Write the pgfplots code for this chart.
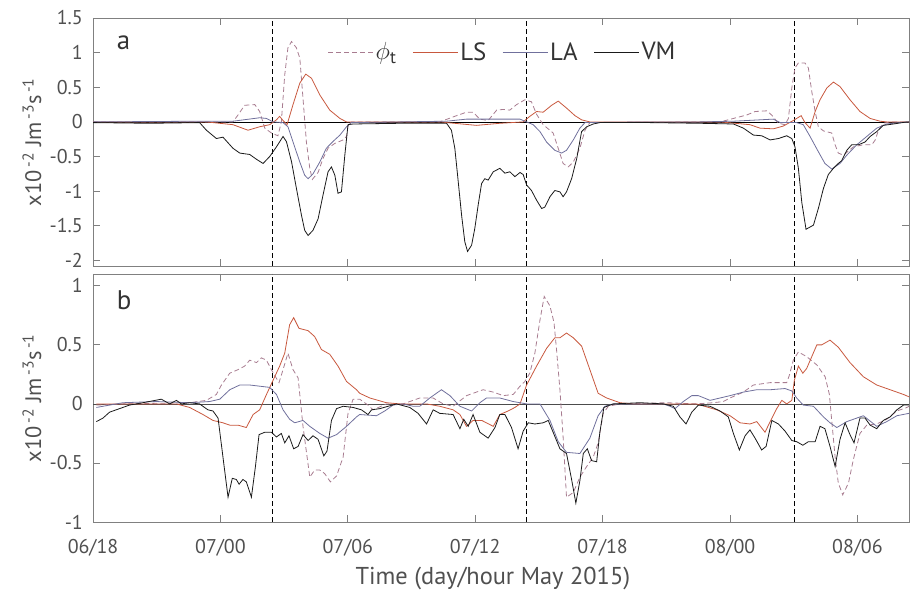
\documentclass[border=0pt]{standalone}
\usepackage{fontspec}
\setmainfont{PT Sans}
\usepackage{pgfplots}
\pgfplotsset{compat=1.18}

\definecolor{cLS}{RGB}{200,88,62}
\definecolor{cLA}{RGB}{112,112,156}
\definecolor{cPhi}{RGB}{168,124,144}
\definecolor{cVM}{RGB}{26,26,26}
\definecolor{axgray}{RGB}{128,128,128}
\definecolor{txtgray}{RGB}{80,80,80}
\definecolor{dark}{RGB}{51,51,51}

\newcommand{\tickfont}{\fontsize{20}{23}\selectfont}

\pgfplotsset{
  panel/.style={
    scale only axis,
    anchor=south west,
    width=816bp, height=248bp,
    xmin=0, xmax=38.43,
    axis line style={axgray, line width=0.8bp},
    tick style={axgray, line width=0.8bp},
    major tick length=7bp,
    tick align=inside,
    xtick={0,6,12,18,24,30,36},
    yticklabel style={font=\tickfont, text=txtgray, anchor=east, inner sep=0pt, xshift=-10bp},
    xticklabel style={font=\tickfont, text=txtgray},
    ylabel={x10\textsuperscript{\,-2} Jm\textsuperscript{\,-3}s\textsuperscript{\,-1}},
    ylabel style={at={(axis description cs:-0.075,0.5)}, anchor=center,
      font=\fontsize{22.5}{26}\selectfont, text=txtgray},
    every axis plot/.append style={line width=0.8bp},
  },
  phi/.style={cPhi, dash pattern=on 5bp off 3bp},
  ls/.style={cLS},
  la/.style={cLA},
  vm/.style={cVM},
  event/.style={black, line width=0.8bp, dash pattern=on 5bp off 3bp, forget plot},
}

\begin{document}
\begin{tikzpicture}
\useasboundingbox (0,0) rectangle (910bp,590bp);

% ---------------- panel a ----------------
\begin{axis}[panel, at={(93bp,324bp)},
  ymin=-2.08, ymax=1.5,
  ytick={-2,-1.5,-1,-0.5,0,0.5,1,1.5},
  yticklabels={-2,-1.5,-1,-0.5,0,0.5,1,1.5},
  xticklabels={},
  legend columns=4,
  legend style={at={(axis description cs:0.502,0.863)}, anchor=center,
    draw=none, fill=none, font=\fontsize{25}{28}\selectfont, text=dark,
    /tikz/every even column/.append style={column sep=14bp}},
  legend image code/.code={\draw[#1] (0bp,0bp) -- (45bp,0bp);},
]
\addplot[black, line width=0.8bp, forget plot] coordinates {(0,0) (38.43,0)};
\addplot[event] coordinates {(8.45,-2.08) (8.45,1.5)};
\addplot[event] coordinates {(20.40,-2.08) (20.40,1.5)};
\addplot[event] coordinates {(33.03,-2.08) (33.03,1.5)};

\addplot[phi] coordinates {
(0,0) (6.59,0) (6.83,0.10) (7.14,0.24) (7.62,0.25) (7.85,0.15) (8.09,-0.09)
(8.40,-0.16) (8.71,-0.20) (8.87,0) (9.03,0.68) (9.18,1.07) (9.35,1.16)
(9.58,1.07) (9.74,0.92) (9.89,0.34) (10.05,-0.29) (10.21,-0.67) (10.33,-0.83)
(10.60,-0.73) (10.83,-0.53) (11.07,-0.38) (11.39,-0.31) (11.78,-0.26)
(11.94,-0.21) (12.01,-0.05) (12.17,0) (16.33,0) (17.12,0.09) (17.59,0.14)
(17.90,0.14) (18.22,0.04) (18.61,0.02) (19.01,0.17) (19.32,0.18) (19.63,0.17)
(19.95,0.25) (20.34,0.32) (20.65,0.29) (20.89,0.11) (21.20,-0.04)
(21.67,-0.16) (21.91,-0.38) (22.14,-0.60) (22.38,-0.65) (22.62,-0.58)
(22.93,-0.38) (23.17,-0.12) (23.40,-0.01) (29.53,0) (30.79,0.10) (31.18,0.15)
(31.73,0.16) (31.96,0.10) (32.28,-0.02) (32.59,-0.04) (32.75,0.05)
(32.91,0.49) (33.06,0.78) (33.22,0.85) (33.53,0.85) (33.69,0.78) (33.85,0.44)
(34.01,0.15) (34.16,-0.07) (34.40,-0.13) (34.79,-0.16) (34.95,-0.33)
(35.10,-0.45) (35.34,-0.48) (35.81,-0.36) (36.28,-0.33) (36.68,-0.33)
(36.84,-0.26) (36.99,-0.12) (37.22,-0.02) (37.54,0) (38.43,0)
};
\addlegendentry{$\phi$\textsubscript{t}}

\addplot[ls] coordinates {
(0,0) (5.34,0) (6.59,-0.04) (7.30,-0.12) (7.85,-0.07) (8.32,-0.04) (8.64,0.03)
(8.79,0.08) (8.95,0.02) (9.14,-0.04) (9.42,0.25) (9.74,0.56) (10.02,0.69)
(10.29,0.63) (10.68,0.39) (11.15,0.17) (11.63,0.05) (11.94,0) (16.33,0)
(18.06,-0.05) (19.16,-0.02) (20.26,0) (20.57,0.08) (20.89,0.15) (21.20,0.14)
(21.60,0.24) (21.91,0.30) (22.30,0.20) (22.70,0.09) (23.01,0.03) (23.40,0)
(29.53,0) (30.94,-0.04) (31.41,-0.09) (32.04,-0.10) (32.51,-0.06)
(32.98,0.02) (33.35,0.09) (33.53,-0.01) (33.77,-0.09) (34.01,0.15)
(34.24,0.32) (34.56,0.49) (34.87,0.575) (35.18,0.51) (35.65,0.32)
(36.12,0.15) (36.60,0.05) (37.07,0.01) (37.38,0) (38.43,0)
};
\addlegendentry{LS}

\addplot[la] coordinates {
(0,0) (5.02,0.01) (6.59,0.01) (7.85,0.06) (8.17,0.05) (8.48,0) (8.95,-0.01)
(9.18,-0.07) (9.42,-0.29) (9.74,-0.58) (9.97,-0.77) (10.13,-0.82)
(10.36,-0.75) (10.68,-0.58) (10.99,-0.38) (11.31,-0.28) (11.63,-0.19)
(11.94,-0.07) (12.17,-0.01) (14.45,0) (16.65,0.01) (16.96,0.02) (17.59,0.04)
(19.16,0.04) (20.11,0.04) (20.42,0) (20.73,-0.04) (21.05,-0.14) (21.36,-0.29)
(21.75,-0.41) (22.07,-0.45) (22.30,-0.41) (22.62,-0.26) (22.93,-0.09)
(23.17,-0.01) (26.23,0) (28.59,0) (30.16,0.01) (32.04,0.04) (32.36,-0.01)
(33.14,-0.01) (33.45,-0.04) (33.77,-0.21) (34.16,-0.43) (34.47,-0.60)
(34.79,-0.68) (35.18,-0.60) (35.50,-0.48) (35.97,-0.33) (36.44,-0.21)
(36.91,-0.09) (37.38,-0.03) (38.0,-0.01) (38.43,0)
};
\addlegendentry{LA}

\addplot[vm] coordinates {
(0,-0.01) (2.67,-0.02) (5.02,-0.01) (5.34,-0.12) (5.81,-0.24) (6.12,-0.22)
(6.59,-0.38) (6.91,-0.45) (7.38,-0.47) (7.70,-0.54) (8.01,-0.60) (8.32,-0.50)
(8.64,-0.36) (8.95,-0.21) (9.11,-0.285) (9.35,-0.575) (9.58,-0.96)
(9.82,-1.35) (9.97,-1.565) (10.13,-1.64) (10.36,-1.565) (10.60,-1.40)
(10.83,-1.06) (11.07,-0.72) (11.23,-0.65) (11.39,-0.77) (11.54,-1.03)
(11.70,-1.01) (11.86,-0.48) (12.01,-0.04) (12.25,-0.03) (14.45,-0.02)
(16.65,-0.02) (16.88,-0.12) (17.04,-0.38) (17.20,-0.86) (17.36,-1.35)
(17.51,-1.73) (17.64,-1.87) (17.83,-1.78) (17.98,-1.54) (18.14,-1.20)
(18.30,-0.89) (18.45,-0.82) (18.61,-0.84) (18.85,-0.72) (19.16,-0.67)
(19.40,-0.74) (19.63,-0.72) (19.87,-0.79) (20.11,-0.73) (20.26,-0.76)
(20.42,-0.91) (20.65,-0.99) (20.89,-1.13) (21.13,-1.25) (21.28,-1.23)
(21.52,-1.08) (21.75,-0.99) (21.99,-1.01) (22.14,-1.08) (22.30,-1.01)
(22.54,-0.82) (22.78,-0.53) (23.01,-0.14) (23.25,-0.07) (23.56,-0.03)
(23.87,-0.01) (26.23,-0.01) (28.59,-0.02) (30.16,-0.03) (30.63,-0.09)
(31.10,-0.19) (31.49,-0.20) (31.89,-0.26) (32.28,-0.24) (32.67,-0.20)
(32.91,-0.24) (33.06,-0.36) (33.22,-0.67) (33.38,-1.16) (33.58,-1.55)
(33.93,-1.49) (34.16,-1.25) (34.40,-0.96) (34.63,-0.76) (34.87,-0.67)
(35.10,-0.60) (35.26,-0.56) (35.50,-0.41) (35.73,-0.33) (36.05,-0.33)
(36.36,-0.29) (36.60,-0.21) (36.91,-0.14) (37.22,-0.05) (37.70,-0.03)
(38.33,0) (38.43,0)
};
\addlegendentry{VM}

\node[anchor=base west, inner sep=0pt, text=dark, font=\fontsize{27}{30}\selectfont]
  at (axis description cs:0.029,0.871) {a};
\end{axis}

% ---------------- panel b ----------------
\begin{axis}[panel, at={(93bp,68bp)},
  ymin=-1, ymax=1.1,
  ytick={-1,-0.5,0,0.5,1},
  yticklabels={-1,-0.5,0,0.5,1},
  xticklabels={06/18,07/00,07/06,07/12,07/18,08/00,08/06},
  xticklabel style={anchor=base, yshift=-31bp},
  xlabel={Time (day/hour May 2015)},
  xlabel style={at={(axis description cs:0.49,-0.254)}, anchor=base,
    font=\fontsize{24.5}{28}\selectfont, text=txtgray},
]
\addplot[black!70, line width=0.8bp, forget plot] coordinates {(0,0) (38.43,0)};
\addplot[event] coordinates {(8.45,-1) (8.45,1.1)};
\addplot[event] coordinates {(20.40,-1) (20.40,1.1)};
\addplot[event] coordinates {(33.03,-1) (33.03,1.1)};

\addplot[phi] coordinates {
(0.16,-0.01) (1.41,0) (4.55,0.01) (5.34,0.03) (5.81,0.08) (6.05,0.16)
(6.44,0.26) (6.83,0.29) (7.14,0.32) (7.38,0.37) (7.70,0.35) (7.93,0.39)
(8.17,0.37) (8.40,0.29) (8.56,0.24) (8.76,0.18) (8.95,0.29) (9.18,0.43)
(9.42,0.29) (9.66,0.22) (9.89,-0.19) (10.21,-0.62) (10.44,-0.56)
(10.68,-0.56) (10.91,-0.59) (11.18,-0.66) (11.47,-0.61) (11.78,-0.45)
(12.01,-0.08) (12.25,0.04) (12.56,0.04) (12.95,-0.01) (13.19,-0.05)
(13.82,0) (14.60,0) (15.39,0.05) (16.02,0.05) (16.49,0) (16.96,-0.02)
(17.59,0.07) (18.37,0.12) (18.85,0.10) (19.32,0.07) (19.79,0.08)
(20.11,0.15) (20.34,0.19) (20.57,0.26) (20.81,0.43) (21.05,0.71)
(21.25,0.91) (21.52,0.83) (21.71,0.69) (21.83,0.46) (21.99,0.12)
(22.14,-0.28) (22.30,-0.79) (22.62,-0.75) (22.93,-0.62) (23.25,-0.53)
(23.56,-0.45) (23.79,-0.33) (24.03,-0.08) (24.27,-0.02) (24.82,0)
(27.02,0.01) (28.43,0) (29.21,0.01) (29.68,0.02) (30.0,0.05) (30.63,0.10)
(31.10,0.16) (31.89,0.18) (32.67,0.18) (32.79,0.24) (32.98,0.37)
(33.22,0.44) (33.61,0.40) (34.09,0.33) (34.48,0.23) (34.68,0.08)
(34.79,-0.14) (34.95,-0.45) (35.10,-0.67) (35.31,-0.77) (35.58,-0.67)
(35.81,-0.47) (36.12,-0.25) (36.44,-0.18) (36.91,-0.17) (37.38,-0.13)
(37.86,-0.06) (38.33,-0.03) (38.43,-0.02)
};

\addplot[ls] coordinates {
(0.16,0) (2.98,0) (3.93,0) (4.55,-0.03) (5.18,-0.09) (5.65,-0.14)
(6.12,-0.16) (6.44,-0.18) (6.83,-0.18) (7.22,-0.20) (7.54,-0.09) (7.85,-0.05)
(8.17,0.08) (8.48,0.20) (8.79,0.32) (9.03,0.43) (9.26,0.67) (9.45,0.73)
(9.70,0.64) (10.13,0.62) (10.44,0.57) (10.76,0.46) (11.15,0.42) (11.54,0.32)
(11.94,0.19) (12.41,0.12) (12.56,0.09) (13.04,0.05) (13.82,0.01) (14.45,0)
(15.71,0) (16.33,-0.02) (16.96,-0.05) (17.28,-0.09) (17.59,-0.19)
(17.90,-0.14) (18.31,-0.14) (18.85,-0.19) (19.16,-0.09) (19.55,-0.06)
(19.87,-0.03) (20.11,0) (20.42,0.16) (20.89,0.32) (21.36,0.47) (21.75,0.56)
(21.99,0.56) (22.30,0.60) (22.62,0.56) (23.01,0.49) (23.40,0.29) (23.79,0.09)
(24.19,0.05) (24.82,0.01) (25.43,0) (28.42,0) (29.37,-0.05) (30.0,-0.10)
(30.47,-0.16) (30.94,-0.17) (31.26,-0.15) (31.65,-0.24) (31.89,-0.15)
(32.20,-0.04) (32.44,0.03) (32.67,0) (32.91,0.03) (33.03,0.20) (33.22,0.32)
(33.43,0.26) (33.61,0.30) (33.85,0.40) (34.09,0.50) (34.32,0.50) (34.71,0.54)
(35.10,0.48) (35.65,0.35) (36.28,0.23) (36.91,0.16) (37.54,0.12)
(38.17,0.08) (38.43,0.06)
};

\addplot[la] coordinates {
(0.16,-0.03) (1.41,0.01) (2.98,0.02) (4.55,0.01) (5.49,0.02) (5.97,0.04)
(6.44,0.12) (6.91,0.16) (7.38,0.16) (7.85,0.15) (8.32,0.14) (8.64,0.08)
(8.95,-0.05) (9.26,-0.13) (9.50,-0.16) (9.89,-0.14) (10.21,-0.19)
(10.68,-0.25) (11.07,-0.29) (11.47,-0.26) (11.94,-0.19) (12.41,-0.11)
(12.56,-0.09) (13.35,-0.10) (13.74,-0.06) (14.13,-0.01) (14.59,0)
(15.08,-0.02) (15.39,-0.02) (15.86,0.05) (16.41,0.12) (16.81,0.07)
(17.28,-0.02) (17.83,-0.06) (18.22,0.01) (18.53,0.05) (19.16,0.05)
(19.79,0.02) (20.42,0) (21.05,0) (21.52,-0.14) (21.91,-0.32) (22.30,-0.41)
(22.93,-0.42) (23.40,-0.29) (23.79,-0.10) (24.11,-0.02) (24.49,0)
(26.86,0) (27.17,-0.02) (27.41,-0.04) (27.80,0.02) (28.20,0.07) (28.51,0.07)
(29.06,0.03) (30.0,0.07) (30.63,0.10) (31.26,0.12) (31.89,0.12) (32.59,0.13)
(32.91,0.11) (33.14,0.05) (33.45,-0.01) (33.93,-0.02) (34.40,-0.11)
(34.71,-0.16) (35.03,-0.20) (35.50,-0.15) (35.97,-0.12) (36.28,-0.10)
(36.91,-0.19) (37.38,-0.15) (37.86,-0.10) (38.43,-0.08)
};

\addplot[vm] coordinates {
(0.16,-0.15) (0.47,-0.12) (0.78,-0.07) (1.25,-0.04) (1.72,-0.01) (2.35,0.01)
(3.22,0.04) (3.61,0) (3.93,0.03) (4.16,0) (4.55,0.01) (5.02,0) (5.41,-0.05)
(5.65,-0.06) (5.89,-0.12) (6.12,-0.45) (6.36,-0.79) (6.56,-0.63) (6.75,-0.64)
(6.88,-0.68) (7.06,-0.64) (7.22,-0.66) (7.46,-0.79) (7.65,-0.53) (7.82,-0.26)
(8.09,-0.24) (8.40,-0.24) (8.64,-0.28) (8.87,-0.25) (9.03,-0.33) (9.23,-0.27)
(9.45,-0.38) (9.66,-0.36) (9.89,-0.26) (10.13,-0.31) (10.36,-0.27)
(10.60,-0.30) (10.87,-0.44) (11.02,-0.40) (11.23,-0.14) (11.47,-0.04)
(11.78,-0.02) (12.25,-0.03) (12.64,-0.05) (12.95,-0.09) (13.12,-0.05)
(13.51,-0.04) (13.90,-0.02) (14.29,0) (14.92,-0.03) (15.31,-0.08)
(15.71,-0.17) (16.02,-0.05) (16.33,-0.08) (16.96,-0.09) (17.28,-0.21)
(17.46,-0.13) (17.67,-0.19) (17.90,-0.09) (18.22,-0.24) (18.61,-0.29)
(18.93,-0.20) (19.16,-0.09) (19.40,-0.09) (19.71,-0.20) (20.02,-0.38)
(20.26,-0.23) (20.50,-0.16) (20.81,-0.17) (21.20,-0.16) (21.44,-0.14)
(21.67,-0.24) (21.99,-0.38) (22.30,-0.42) (22.54,-0.64) (22.74,-0.84)
(22.93,-0.65) (23.09,-0.42) (23.28,-0.38) (23.48,-0.48) (23.72,-0.49)
(23.87,-0.24) (24.06,-0.03) (24.50,0) (25.76,0.01) (26.86,0) (27.33,-0.02)
(27.64,-0.11) (27.93,-0.17) (28.20,-0.07) (28.51,-0.01) (29.06,-0.02)
(29.53,-0.06) (29.92,-0.11) (30.16,-0.25) (30.44,-0.39) (30.71,-0.27)
(30.94,-0.22) (31.18,-0.29) (31.49,-0.39) (31.70,-0.36) (31.97,-0.14)
(32.28,-0.17) (32.59,-0.23) (32.91,-0.31) (33.14,-0.32) (33.43,-0.35)
(33.69,-0.32) (34.01,-0.32) (34.24,-0.19) (34.47,-0.21) (34.71,-0.36)
(34.95,-0.53) (35.18,-0.30) (35.42,-0.16) (35.65,-0.26) (35.84,-0.33)
(36.12,-0.12) (36.36,-0.12) (36.60,-0.18) (36.91,-0.21) (37.22,-0.14)
(37.54,-0.11) (37.86,-0.05) (38.17,-0.01) (38.43,-0.01)
};

\node[anchor=base west, inner sep=0pt, text=dark, font=\fontsize{27}{30}\selectfont]
  at (axis description cs:0.029,0.855) {b};
\end{axis}
\end{tikzpicture}
\end{document}
